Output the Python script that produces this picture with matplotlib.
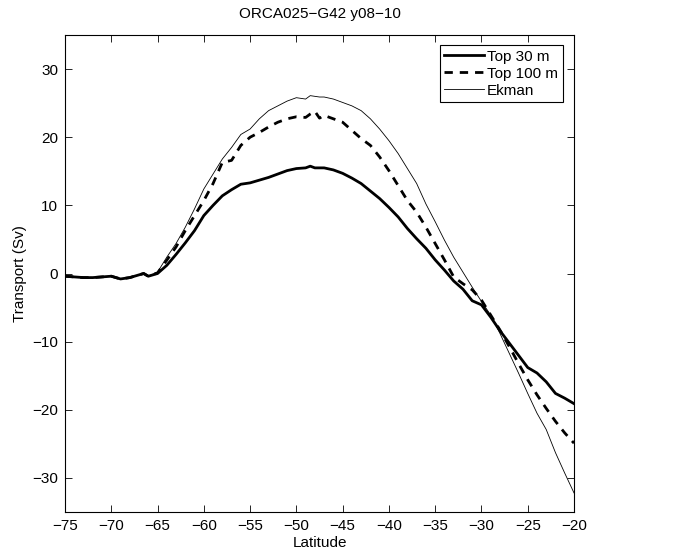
import matplotlib
matplotlib.use("Agg")
import matplotlib.pyplot as plt
import numpy as np

plt.rcParams['font.family'] = ['Liberation Sans', 'DejaVu Sans']

lat = [-75, -74, -73, -72, -71, -70, -69, -68, -67, -66.5, -66, -65, -64, -63, -62, -61, -60,
       -59, -58, -57, -56, -55, -54, -53, -52, -51, -50, -49, -48.5, -48, -47.5, -47, -46, -45,
       -44, -43, -42, -41, -40, -39, -38, -37, -36, -35, -34, -33, -32, -31, -30, -29,
       -28, -27, -26, -25, -24, -23, -22, -21, -20]

top30 = [-0.4, -0.5, -0.6, -0.6, -0.5, -0.4, -0.8, -0.6, -0.2, 0.0, -0.4, 0.0, 1.2, 2.8, 4.5, 6.3, 8.5,
         10.0, 11.4, 12.3, 13.1, 13.3, 13.7, 14.1, 14.6, 15.1, 15.4, 15.5, 15.75, 15.5, 15.5, 15.5, 15.2, 14.7,
         14.0, 13.2, 12.1, 11.0, 9.7, 8.3, 6.6, 5.1, 3.7, 2.0, 0.5, -1.1, -2.3, -4.0, -4.6, -6.4,
         -8.4, -10.2, -12.0, -13.8, -14.6, -15.9, -17.6, -18.3, -19.1]

top100 = [-0.4, -0.5, -0.6, -0.6, -0.5, -0.4, -0.8, -0.6, -0.2, 0.0, -0.4, 0.1, 1.95, 3.9, 6.3, 8.5, 10.7,
          13.2, 16.3, 16.6, 18.8, 20.0, 20.7, 21.5, 22.2, 22.7, 23.0, 22.9, 23.4, 23.8, 22.8, 23.2, 22.7, 22.2,
          21.0, 19.8, 18.8, 17.1, 15.1, 12.9, 10.7, 9.0, 6.8, 4.4, 2.0, -0.5, -1.5, -2.4, -3.9, -6.1,
          -8.3, -10.7, -13.2, -15.6, -17.8, -19.8, -21.7, -23.4, -24.9]

ekman = [-0.4, -0.5, -0.6, -0.6, -0.5, -0.4, -0.8, -0.6, -0.2, 0.0, -0.4, 0.2, 2.4, 4.4, 6.8, 9.5, 12.4,
         14.6, 16.8, 18.5, 20.4, 21.2, 22.7, 23.9, 24.6, 25.3, 25.8, 25.6, 26.1, 26.0, 25.9, 25.9, 25.6, 25.1,
         24.6, 23.9, 22.7, 21.2, 19.5, 17.6, 15.4, 13.2, 10.2, 7.6, 4.9, 2.4, 0.2, -2.0, -4.1, -6.1,
         -8.8, -11.7, -14.6, -17.6, -20.5, -22.9, -26.3, -29.3, -32.2]

xticks = [-75, -70, -65, -60, -55, -50, -45, -40, -35, -30, -25, -20]
yticks = [-30, -20, -10, 0, 10, 20, 30]

fig = plt.figure(figsize=(6.81, 5.57), dpi=100)
ax = fig.add_axes([65/681, 45/557, 509/681, 477/557])

ax.plot(lat, top30, color='black', lw=2.0, label='Top 30 m')
ax.plot(lat, top100, color='black', lw=2.0, ls=(0, (3, 2.5)), label='Top 100 m')
ax.plot(lat, ekman, color='black', lw=0.6, label='Ekman')

ax.set_xlim(-75, -20)
ax.set_ylim(-35, 35)
ax.set_xticks(xticks)
ax.set_yticks(yticks)
ax.tick_params(direction='in', top=True, right=True, labelsize=11, length=5, width=0.6, pad=5)
for s in ax.spines.values():
    s.set_linewidth(0.8)

ax.set_xlabel('Latitude', fontsize=11, labelpad=2)
ax.set_ylabel('Transport (Sv)', fontsize=11, labelpad=4)
ax.set_title('ORCA025\u2212G42 y08\u221210', fontsize=11, pad=12)

leg = ax.legend(loc='upper right', bbox_to_anchor=(0.978, 0.979), borderaxespad=0,
                fancybox=False, framealpha=1, edgecolor='black', fontsize=11,
                handlelength=2.6, handletextpad=0.2, labelspacing=0.2, borderpad=0.3)
leg.get_frame().set_linewidth(0.8)

fig.savefig('out.png', dpi=100)
